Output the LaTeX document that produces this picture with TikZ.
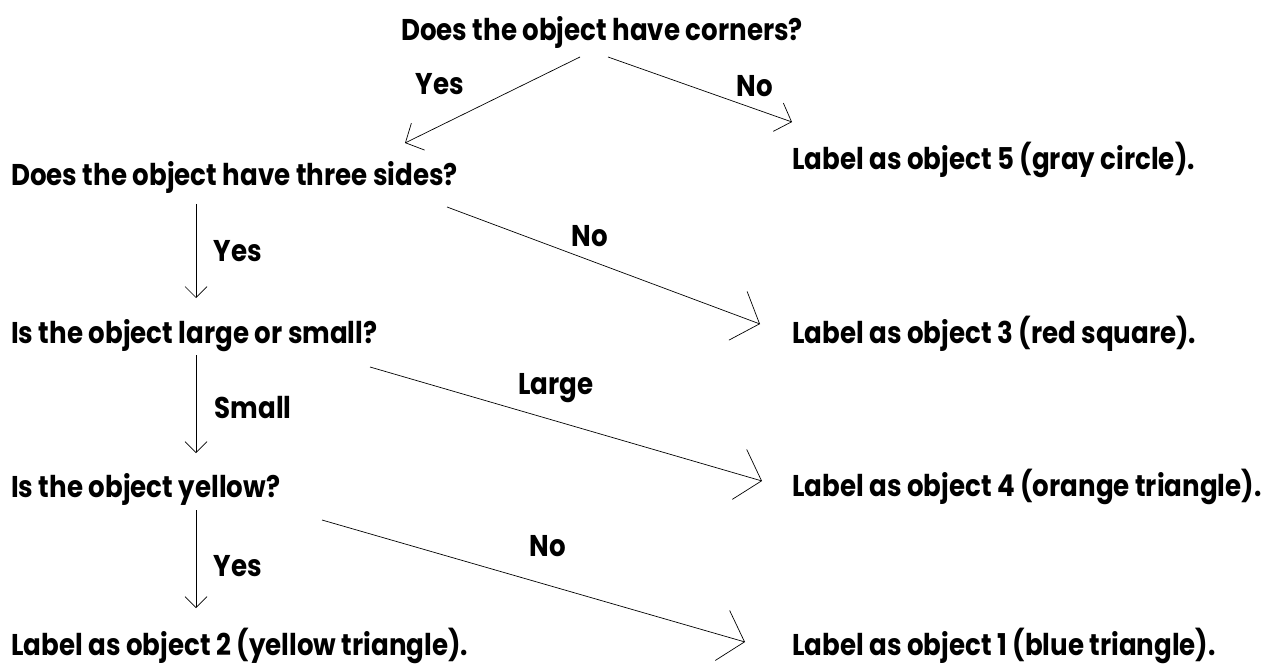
\documentclass[tikz,border=0pt]{standalone}
\usepackage{fontspec}
\setmainfont{Poppins}[FakeStretch=0.87]
\usetikzlibrary{arrows.meta}
\tikzset{
  txt/.style={inner sep=0pt, font=\fontsize{30}{34}\selectfont\bfseries},
  arr/.style={line width=0.7pt, -{Straight Barb[length=11pt,width=22pt,line width=0.7pt]}},
  arrm/.style={line width=0.7pt, -{Straight Barb[length=14pt,width=30pt,line width=0.7pt]}},
  arrl/.style={line width=0.7pt, -{Straight Barb[length=23pt,width=52pt,line width=0.7pt]}},
}
\begin{document}
\begin{tikzpicture}[x=1pt,y=-1pt]
\useasboundingbox (0,0) rectangle (1285,671);
\node[txt,anchor=base] (q1) at (602,41) {Does the object have corners?};
\node[txt,anchor=base west] (q2) at (11,186) {Does the object have three sides?};
\node[txt,anchor=base west] (q3) at (11,343) {Is the object large or small?};
\node[txt,anchor=base west] (q4) at (11,497) {Is the object yellow?};
\node[txt,anchor=base west] (l2) at (11,655) {Label as object 2 (yellow triangle).};
\node[txt,anchor=base west] (l5) at (792,170) {Label as object 5 (gray circle).};
\node[txt,anchor=base west] (l3) at (792,343) {Label as object 3 (red square).};
\node[txt,anchor=base west] (l4) at (792,496) {Label as object 4 (orange triangle).};
\node[txt,anchor=base west] (l1) at (792,655) {Label as object 1 (blue triangle).};

\node[txt] (yes1) at (440,84) {Yes};
\node[txt] (no1) at (755,86) {No};
\node[txt] (no2) at (590,236) {No};
\node[txt] (yes2) at (238,251) {Yes};
\node[txt] (large) at (556,388) {Large};
\node[txt] (small) at (253,408) {Small};
\node[txt] (no3) at (548,546) {No};
\node[txt] (yes3) at (238,566) {Yes};

\draw[arrm] ([shift={(-22,16)}]q1.base) -- ([shift={(394,-43)}]q2.base west);
\draw[arrm] ([shift={(6,16)}]q1.base) -- ([shift={(0,-48)}]l5.base west);
\draw[arr] ([shift={(185,18)}]q2.base west) -- ([shift={(185,-45)}]q3.base west);
\draw[arrl] ([shift={(436,21)}]q2.base west) -- ([shift={(-32,-19)}]l3.base west);
\draw[arr] ([shift={(185,12)}]q3.base west) -- ([shift={(185,-44)}]q4.base west);
\draw[arrl] ([shift={(359,24)}]q3.base west) -- ([shift={(-30,-15)}]l4.base west);
\draw[arr] ([shift={(185,13)}]q4.base west) -- ([shift={(185,-47)}]l2.base west);
\draw[arrl] ([shift={(311,23)}]q4.base west) -- ([shift={(-47,-13)}]l1.base west);
\end{tikzpicture}
\end{document}
